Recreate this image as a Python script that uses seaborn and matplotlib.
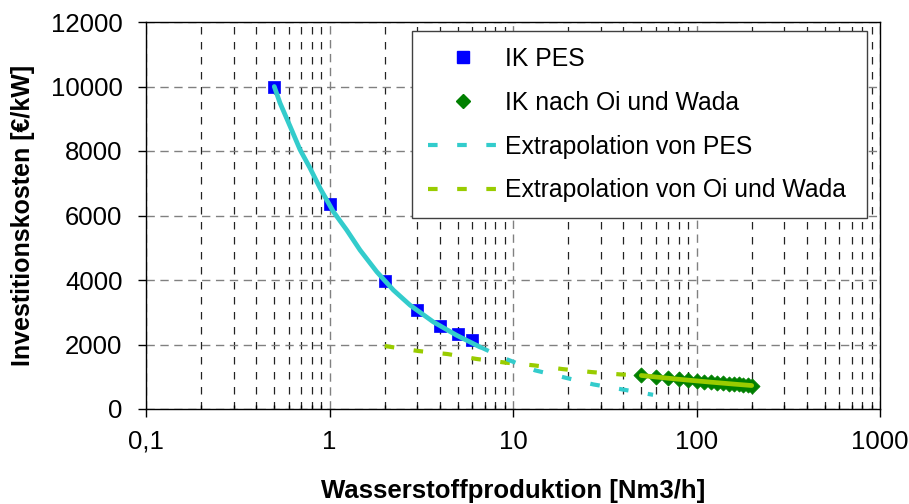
import matplotlib
matplotlib.use("Agg")
import matplotlib.pyplot as plt
import matplotlib.ticker as mticker
from matplotlib.lines import Line2D
import seaborn as sns

# ---- data ----
pes_x = [0.5, 1, 2, 3, 4, 5, 6]
pes_y = [10000, 6350, 3970, 3070, 2560, 2330, 2140]

oi_x = [50, 60, 70, 80, 90, 100, 110, 120, 130, 140, 150, 160, 170, 180, 190, 200]
oi_y = [1040, 993, 955, 922, 895, 872, 851, 832, 815, 800, 785, 772, 760, 749, 738, 728]

# PES fit curve (solid over data range) and its extrapolation (dashed)
pes_fit_x = [0.5, 0.537, 0.61, 0.691, 0.783, 0.888, 1.049, 1.24, 1.466, 1.81, 2.23, 2.75, 3.68, 4.93, 6.61]
pes_fit_y = [10000, 9493, 8765, 8040, 7471, 6849, 6121, 5552, 4930, 4255, 3686, 3219, 2700, 2286, 1922]
pes_ext_x = [6.61, 9.27, 13.2, 19.0, 27.4, 39.4, 58.0]
pes_ext_y = [1922, 1540, 1198, 980, 762, 607, 440]

# Oi & Wada fit (solid over data range) and extrapolation (dashed)
oi_fit_x = [50, 60, 70, 80, 90, 100, 120, 140, 160, 180, 200]
oi_fit_y = [1040, 993, 955, 922, 895, 872, 832, 800, 772, 749, 728]
oi_ext_x = [2.0, 3.05, 4.40, 6.32, 9.04, 13.0, 18.6, 26.8, 38.3, 50]
oi_ext_y = [1953, 1798, 1704, 1552, 1440, 1353, 1238, 1145, 1073, 1040]

labels = ["IK PES", "IK nach Oi und Wada", "Extrapolation von PES",
          "Extrapolation von Oi und Wada"]
x_ticks = [0.1, 1, 10, 100, 1000]
x_tick_labels = ["0,1", "1", "10", "100", "1000"]
y_ticks = [0, 2000, 4000, 6000, 8000, 10000, 12000]

# ---- style ----
sns.set_theme(style="white")
plt.rcParams["font.family"] = ["Liberation Sans", "DejaVu Sans"]
plt.rcParams["text.color"] = "black"
plt.rcParams["axes.labelcolor"] = "black"

C_BLUE = "#0000FF"
C_GREEN = "#008000"
C_CYAN = "#33CCCC"
C_LIME = "#99CC00"

fig = plt.figure(figsize=(9.09, 5.04), dpi=100)
ax = fig.add_axes([146 / 909, 1 - 409 / 504, 734 / 909, 387 / 504])

DASH = (0, (2.3, 4.7))
LW = 3.0

# extrapolation lines (dashed)
sns.lineplot(x=oi_ext_x, y=oi_ext_y, ax=ax, color=C_LIME, lw=LW, linestyle=DASH,
             sort=False, estimator=None, zorder=3)
sns.lineplot(x=pes_ext_x, y=pes_ext_y, ax=ax, color=C_CYAN, lw=LW, linestyle=DASH,
             sort=False, estimator=None, zorder=3)

# markers
sns.scatterplot(x=pes_x, y=pes_y, ax=ax, marker="s", s=85, color=C_BLUE,
                edgecolor=C_BLUE, linewidth=0.5, zorder=4)
sns.scatterplot(x=oi_x, y=oi_y, ax=ax, marker="D", s=60, color=C_GREEN,
                edgecolor=C_GREEN, linewidth=0.5, zorder=4)

# fitted curves over data range (solid)
sns.lineplot(x=pes_fit_x, y=pes_fit_y, ax=ax, color=C_CYAN, lw=3.4,
             sort=False, estimator=None, zorder=5)
sns.lineplot(x=oi_fit_x, y=oi_fit_y, ax=ax, color=C_LIME, lw=3.4,
             sort=False, estimator=None, zorder=5)

ax.set_xscale("log")
ax.set_xlim(0.1, 1000)
ax.set_ylim(0, 12000)
ax.set_xticks(x_ticks)
ax.set_xticklabels(x_tick_labels)
ax.xaxis.set_minor_locator(mticker.LogLocator(base=10, subs=range(2, 10)))
ax.xaxis.set_minor_formatter(mticker.NullFormatter())
ax.set_yticks(y_ticks)
ax.set_yticklabels([str(v) for v in y_ticks])

# grid
ax.grid(False)
ax.yaxis.grid(True, which="major", color="#808080", linestyle=(0, (6, 4)), lw=1.0)
ax.xaxis.grid(True, which="major", color="#808080", linestyle=(0, (6, 4)), lw=1.0)
ax.xaxis.grid(True, which="minor", color="#222222", linestyle=(0, (6, 6)), lw=0.9)
ax.set_axisbelow(True)

for sp in ax.spines.values():
    sp.set_visible(True)
    sp.set_color("black")
    sp.set_linewidth(1.0)

FS_TICK = 18.5
FS_LEG = 17.8
ax.tick_params(axis="y", which="major", direction="out", length=6, width=1,
               pad=11, labelsize=FS_TICK, colors="black", left=True)
ax.tick_params(axis="x", which="major", direction="out", length=6, width=1,
               pad=9, labelsize=FS_TICK, colors="black", bottom=True)
ax.tick_params(axis="x", which="minor", direction="in", length=3, width=1,
               bottom=True, colors="black")

ax.set_xlabel("Wasserstoffproduktion [Nm3/h]", fontsize=18.5, fontweight="bold",
              color="black")
ax.set_ylabel("Investitionskosten [€/kW]", fontsize=18, fontweight="bold",
              color="black")
ax.xaxis.label.set_va("center")
ax.yaxis.label.set_va("center")
ax.xaxis.set_label_coords(0.5, (409 - 491) / 387)
ax.yaxis.set_label_coords((23 - 146) / 734, 0.5)

handles = [
    Line2D([], [], marker="s", color=C_BLUE, ls="none", markersize=9),
    Line2D([], [], marker="D", color=C_GREEN, ls="none", markersize=6.8),
    Line2D([], [], color=C_CYAN, lw=LW, linestyle=DASH),
    Line2D([], [], color=C_LIME, lw=LW, linestyle=DASH),
]
leg = ax.legend(handles, labels, loc="upper left",
                bbox_to_anchor=(412 / 909, 1 - 36 / 504, (867 - 412) / 909, 0.01),
                bbox_transform=fig.transFigure, mode="expand",
                borderaxespad=0, fontsize=FS_LEG, frameon=True, fancybox=False,
                handlelength=2.8, handletextpad=0.3, labelspacing=0.8,
                borderpad=0.65, labelcolor="black")
leg.get_frame().set_edgecolor("#404040")
leg.get_frame().set_linewidth(1.0)
leg.get_frame().set_facecolor("white")
leg.get_frame().set_alpha(1)
leg.set_zorder(10)

fig.savefig("out.png", dpi=100, facecolor="white")
